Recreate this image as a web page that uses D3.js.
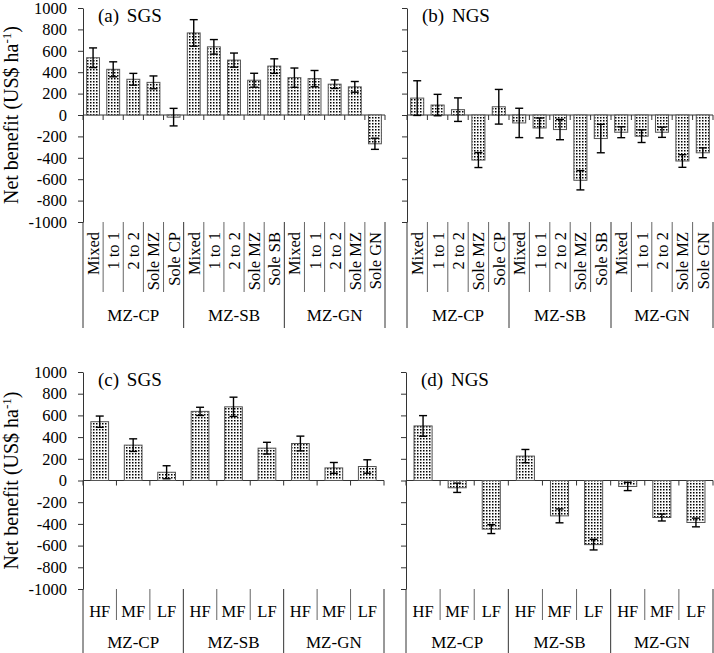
<!DOCTYPE html>
<html>
<head>
<meta charset="utf-8">
<script src="https://cdn.jsdelivr.net/npm/d3@7"></script>
<style>
    body { margin: 0; background: #fff; }
    svg { display: block; font-family: "Liberation Serif", "Times New Roman", serif; }
</style>
</head>
<body>
<div id="chart"></div>
<script>
// ===========================
// Net benefit — four panels (SGS / NGS x cropping system / fertiliser level)
// ===========================

// ── Data ──────────────────────────────────────────────────────────────────
const groups = ['MZ-CP', 'MZ-SB', 'MZ-GN'];
const systemSubs = [
    ['Mixed', '1 to 1', '2 to 2', 'Sole MZ', 'Sole CP'],
    ['Mixed', '1 to 1', '2 to 2', 'Sole MZ', 'Sole SB'],
    ['Mixed', '1 to 1', '2 to 2', 'Sole MZ', 'Sole GN']
];
const fertSubs = [['HF', 'MF', 'LF'], ['HF', 'MF', 'LF'], ['HF', 'MF', 'LF']];
const yTicks = [-1000, -800, -600, -400, -200, 0, 200, 400, 600, 800, 1000];

// (a) SGS, (b) NGS by cropping system
const sgsSystem    = [535, 427, 334, 305, -20, 767, 637, 513, 325, 457, 349, 340, 288, 263, -269];
const sgsSystemErr = [92, 70, 55, 60, 82, 124, 68, 66, 65, 68, 90, 76, 40, 50, 52];
const ngsSystem    = [158, 93, 50, -421, 77, -74, -121, -136, -610, -220, -161, -198, -161, -430, -353];
const ngsSystemErr = [162, 100, 110, 70, 162, 137, 93, 95, 90, 133, 51, 59, 48, 59, 46];

// (c) SGS, (d) NGS by fertiliser level
const sgsFert    = [542, 326, 76, 637, 679, 298, 341, 116, 129];
const sgsFertErr = [52, 58, 60, 38, 89, 54, 68, 50, 62];
const ngsFert    = [503, -67, -448, 225, -326, -591, -55, -341, -387];
const ngsFertErr = [95, 43, 41, 61, 64, 49, 38, 32, 40];

// ── SVG ───────────────────────────────────────────────────────────────────
const svg = d3.select('#chart')
    .append('svg')
    .attr('width', 714)
    .attr('height', 653);

// dotted fill like the Excel pattern
const pat = svg.append('defs').append('pattern')
    .attr('id', 'dots')
    .attr('patternUnits', 'userSpaceOnUse')
    .attr('width', 3)
    .attr('height', 3);
pat.append('rect').attr('width', 3).attr('height', 3).attr('fill', '#fafafa');
pat.append('rect').attr('width', 1.5).attr('height', 1.5).attr('fill', '#000');

const AXIS = '#333';

function drawPanel(opt) {
    const g = svg.append('g');

    const keys = groups.flatMap((grp, gi) => opt.subs[gi].map(s => grp + '|' + s));

    const x = d3.scaleBand()
        .domain(keys)
        .range([opt.left, opt.right]);

    const y = d3.scaleLinear()
        .domain([-1000, 1000])
        .range([opt.bottom, opt.top]);

    // Y axis
    const yAxis = g.append('g')
        .attr('transform', `translate(${opt.left},0)`)
        .call(d3.axisLeft(y)
            .tickValues(yTicks)
            .tickSize(5)
            .tickSizeOuter(0)
            .tickPadding(11)
            .tickFormat(d => opt.labels ? String(d) : ''));
    yAxis.select('.domain').attr('stroke', AXIS);
    yAxis.selectAll('.tick line').attr('stroke', AXIS);
    yAxis.selectAll('.tick text')
        .style('font-size', '16.5px')
        .style('font-family', '"Liberation Serif", "Times New Roman", serif')
        .attr('fill', '#000');

    // Zero line with category ticks
    const y0 = y(0);
    const bounds = keys.map(k => x(k)).concat([opt.right]);
    g.append('line')
        .attr('x1', opt.left).attr('x2', opt.right)
        .attr('y1', y0).attr('y2', y0)
        .attr('stroke', AXIS);
    g.selectAll('.zt')
        .data(bounds)
        .join('line')
        .attr('x1', d => d).attr('x2', d => d)
        .attr('y1', y0).attr('y2', y0 + 5)
        .attr('stroke', AXIS);

    // Bars
    const bw = x.bandwidth() * opt.barFrac;
    const rows = keys.map((k, i) => ({ k, v: opt.values[i], e: opt.errs[i] }));
    g.selectAll('.bar')
        .data(rows)
        .join('rect')
        .attr('x', d => x(d.k) + (x.bandwidth() - bw) / 2)
        .attr('y', d => Math.min(y(d.v), y0))
        .attr('width', bw)
        .attr('height', d => Math.abs(y(d.v) - y0))
        .attr('fill', 'url(#dots)')
        .attr('stroke', '#555')
        .attr('stroke-width', 1);

    // Error bars
    const cx = d => x(d.k) + x.bandwidth() / 2;
    const cap = 4;
    const eb = g.selectAll('.err').data(rows).join('g').attr('stroke', '#000').attr('stroke-width', 1.4);
    eb.append('line')
        .attr('x1', cx).attr('x2', cx)
        .attr('y1', d => y(d.v + d.e)).attr('y2', d => y(d.v - d.e));
    eb.append('line')
        .attr('x1', d => cx(d) - cap).attr('x2', d => cx(d) + cap)
        .attr('y1', d => y(d.v + d.e)).attr('y2', d => y(d.v + d.e));
    eb.append('line')
        .attr('x1', d => cx(d) - cap).attr('x2', d => cx(d) + cap)
        .attr('y1', d => y(d.v - d.e)).attr('y2', d => y(d.v - d.e));

    // Multi-level category axis below the plot
    const groupStarts = new Set([0]);
    let acc = 0;
    opt.subs.forEach(s => { acc += s.length; groupStarts.add(acc); });
    g.selectAll('.sep')
        .data(bounds.map((b, i) => ({ b, grp: groupStarts.has(i) })))
        .join('line')
        .attr('x1', d => d.b).attr('x2', d => d.b)
        .attr('y1', opt.bottom)
        .attr('y2', d => d.grp ? opt.groupLineBottom : opt.subLineBottom)
        .attr('stroke', d => d.grp ? AXIS : '#666');

    const subLab = g.selectAll('.sub')
        .data(keys)
        .join('text')
        .style('font-size', '16.5px')
        .attr('fill', '#000')
        .text(k => k.split('|')[1]);
    if (opt.rotated) {
        subLab.attr('text-anchor', 'end')
            .attr('transform', k => `translate(${x(k) + x.bandwidth() / 2 + 6},${opt.subLabelY}) rotate(-90)`);
    } else {
        subLab.attr('text-anchor', 'middle')
            .attr('x', k => x(k) + x.bandwidth() / 2)
            .attr('y', opt.subLabelY);
    }

    g.selectAll('.grp')
        .data(groups)
        .join('text')
        .attr('text-anchor', 'middle')
        .attr('x', (grp, gi) => {
            const ks = keys.filter(k => k.startsWith(grp + '|'));
            return (x(ks[0]) + x(ks[ks.length - 1]) + x.bandwidth()) / 2;
        })
        .attr('y', opt.groupLabelY)
        .style('font-size', '17px')
        .attr('fill', '#000')
        .text(d => d);

    // Panel title
    g.append('text')
        .attr('x', opt.left + 15)
        .attr('y', opt.top + 14)
        .style('font-size', '19px')
        .style('word-spacing', '3px')
        .attr('fill', '#000')
        .text(opt.title);

    // Y axis title (left panels)
    if (opt.labels) {
        const t = g.append('text')
            .attr('transform', `translate(18,${y0}) rotate(-90)`)
            .attr('text-anchor', 'middle')
            .style('font-size', '20px')
            .attr('fill', '#000');
        t.append('tspan').text('Net benefit (US$ ha');
        t.append('tspan').attr('dy', -7).style('font-size', '13px').text('-1');
        t.append('tspan').attr('dy', 7).text(')');
    }
}

const topOpt = { top: 8, bottom: 222, subs: systemSubs, rotated: true, barFrac: 0.64,
    subLabelY: 232, subLineBottom: 292, groupLineBottom: 328, groupLabelY: 321 };
const botOpt = { top: 372, bottom: 589, subs: fertSubs, rotated: false, barFrac: 0.53,
    subLabelY: 617, subLineBottom: 620, groupLineBottom: 653, groupLabelY: 648 };

drawPanel({ ...topOpt, left: 83, right: 385, labels: true, title: '(a) SGS', values: sgsSystem, errs: sgsSystemErr });
drawPanel({ ...topOpt, left: 407, right: 713, labels: false, title: '(b) NGS', values: ngsSystem, errs: ngsSystemErr });
drawPanel({ ...botOpt, left: 83, right: 384, labels: true, title: '(c) SGS', values: sgsFert, errs: sgsFertErr });
drawPanel({ ...botOpt, left: 406, right: 713, labels: false, title: '(d) NGS', values: ngsFert, errs: ngsFertErr });
</script>
</body>
</html>
